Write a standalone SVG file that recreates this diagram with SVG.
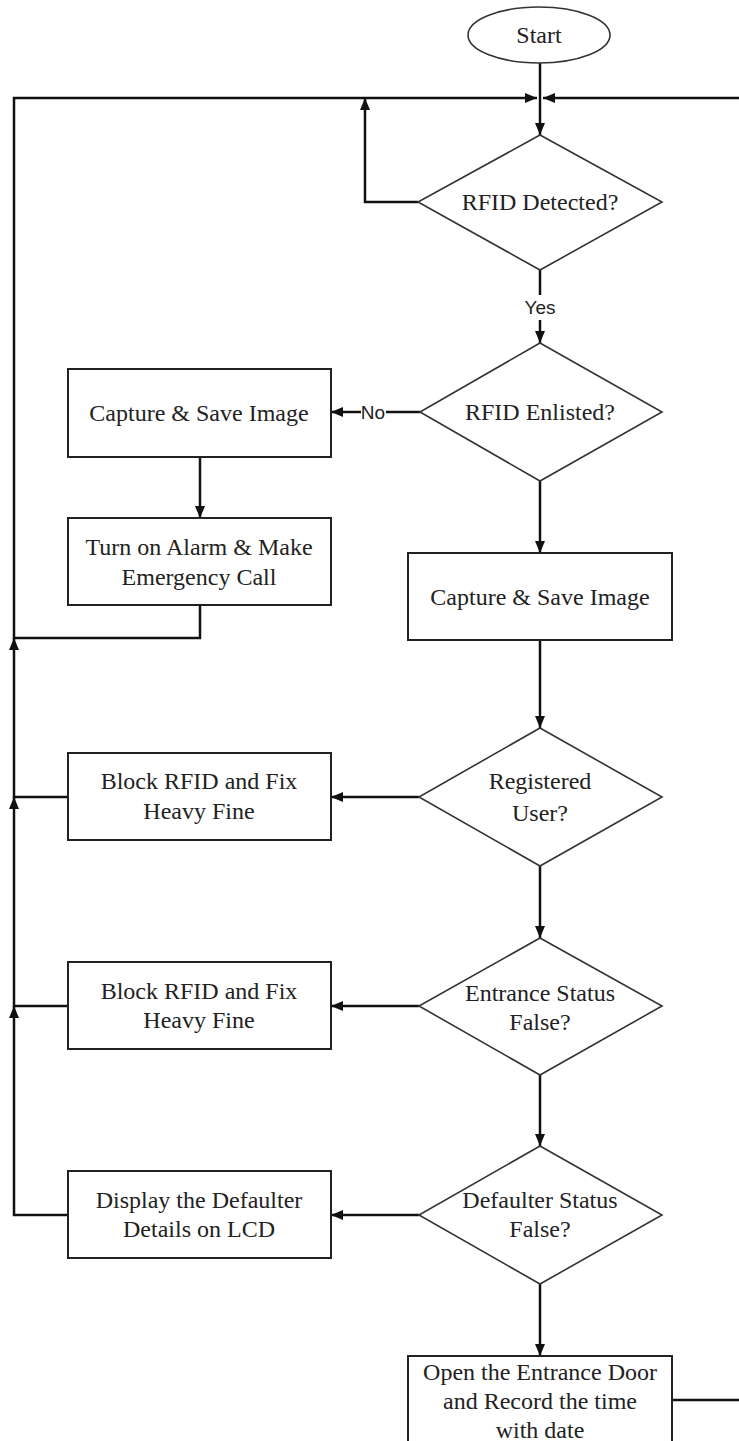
<svg xmlns="http://www.w3.org/2000/svg" width="739" height="1441" viewBox="0 0 739 1441">
<style>
.bx{fill:#fff;stroke:#222;stroke-width:2}
.dm{fill:#fff;stroke:#333;stroke-width:1.6}
.t{font-family:"Liberation Serif","Times New Roman",serif;font-size:24px;fill:#222;text-anchor:middle}
.l{font-family:"Liberation Sans",Arial,sans-serif;font-size:19px;fill:#222;text-anchor:middle}
.c{fill:none;stroke:#111;stroke-width:2.5}
</style>
<defs>
<marker id="ah" viewBox="0 0 12 10" refX="12" refY="5" markerWidth="12" markerHeight="10" orient="auto" markerUnits="userSpaceOnUse"><path d="M0,0 L12,5 L0,10 z" fill="#111"/></marker>
</defs>
<rect width="739" height="1441" fill="#fff"/>
<g id="connectors">
<path class="c" d="M540,63 V135" marker-end="url(#ah)"/>
<path class="c" d="M200,605 V638 H14 V98 H537" marker-end="url(#ah)"/>
<path class="c" d="M672,1400 H741 V98 H543" marker-end="url(#ah)"/>
<path class="c" d="M418,202 H365 V98" marker-end="url(#ah)"/>
<path class="c" d="M540,270 V295"/>
<path class="c" d="M540,320 V343" marker-end="url(#ah)"/>
<path class="c" d="M420,412 H386"/>
<path class="c" d="M361,412 H331" marker-end="url(#ah)"/>
<path class="c" d="M200,457 V518" marker-end="url(#ah)"/>
<path class="c" d="M540,481 V553" marker-end="url(#ah)"/>
<path class="c" d="M540,640 V728" marker-end="url(#ah)"/>
<path class="c" d="M419,797 H331" marker-end="url(#ah)"/>
<path class="c" d="M540,866 V938" marker-end="url(#ah)"/>
<path class="c" d="M419,1006 H331" marker-end="url(#ah)"/>
<path class="c" d="M540,1075 V1146" marker-end="url(#ah)"/>
<path class="c" d="M419,1215 H331" marker-end="url(#ah)"/>
<path class="c" d="M540,1284 V1356" marker-end="url(#ah)"/>
<path class="c" d="M68,797 H14 V638" marker-end="url(#ah)"/>
<path class="c" d="M68,1006 H14 V797" marker-end="url(#ah)"/>
<path class="c" d="M68,1215 H14 V1006" marker-end="url(#ah)"/>
<text class="l" x="540" y="314">Yes</text>
<text class="l" x="373" y="419">No</text>
</g>
<g id="start">
<ellipse class="dm" cx="539" cy="35" rx="71" ry="28"/>
<text class="t" x="539" y="43">Start</text>
</g>
<g id="rfid-detected">
<polygon class="dm" points="540,135 662,202 540,270 418,202"/>
<text class="t" x="540" y="210">RFID Detected?</text>
</g>
<g id="rfid-enlisted">
<polygon class="dm" points="540,343 662,412 540,481 420,412"/>
<text class="t" x="540" y="420">RFID Enlisted?</text>
</g>
<g id="capture-left">
<rect class="bx" x="68" y="369" width="263" height="88"/>
<text class="t" x="199" y="421">Capture &amp; Save Image</text>
</g>
<g id="alarm">
<rect class="bx" x="68" y="518" width="263" height="87"/>
<text class="t" x="199" y="555">Turn on Alarm &amp; Make</text>
<text class="t" x="199" y="585">Emergency Call</text>
</g>
<g id="capture-right">
<rect class="bx" x="408" y="553" width="264" height="87"/>
<text class="t" x="540" y="605">Capture &amp; Save Image</text>
</g>
<g id="registered">
<polygon class="dm" points="540,728 662,797 540,866 419,797"/>
<text class="t" x="540" y="789">Registered</text>
<text class="t" x="540" y="821">User?</text>
</g>
<g id="block1">
<rect class="bx" x="68" y="753" width="263" height="87"/>
<text class="t" x="199" y="789">Block RFID and Fix</text>
<text class="t" x="199" y="819">Heavy Fine</text>
</g>
<g id="entrance">
<polygon class="dm" points="540,938 662,1006 540,1075 419,1006"/>
<text class="t" x="540" y="1001">Entrance Status</text>
<text class="t" x="540" y="1030">False?</text>
</g>
<g id="block2">
<rect class="bx" x="68" y="962" width="263" height="87"/>
<text class="t" x="199" y="999">Block RFID and Fix</text>
<text class="t" x="199" y="1028">Heavy Fine</text>
</g>
<g id="defaulter">
<polygon class="dm" points="540,1146 662,1215 540,1284 419,1215"/>
<text class="t" x="540" y="1208">Defaulter Status</text>
<text class="t" x="540" y="1237">False?</text>
</g>
<g id="display">
<rect class="bx" x="68" y="1171" width="263" height="87"/>
<text class="t" x="199" y="1208">Display the Defaulter</text>
<text class="t" x="199" y="1237">Details on LCD</text>
</g>
<g id="open-door">
<rect class="bx" x="408" y="1356" width="264" height="100"/>
<text class="t" x="540" y="1380">Open the Entrance Door</text>
<text class="t" x="540" y="1409">and Record the time</text>
<text class="t" x="540" y="1438">with date</text>
</g>
</svg>
